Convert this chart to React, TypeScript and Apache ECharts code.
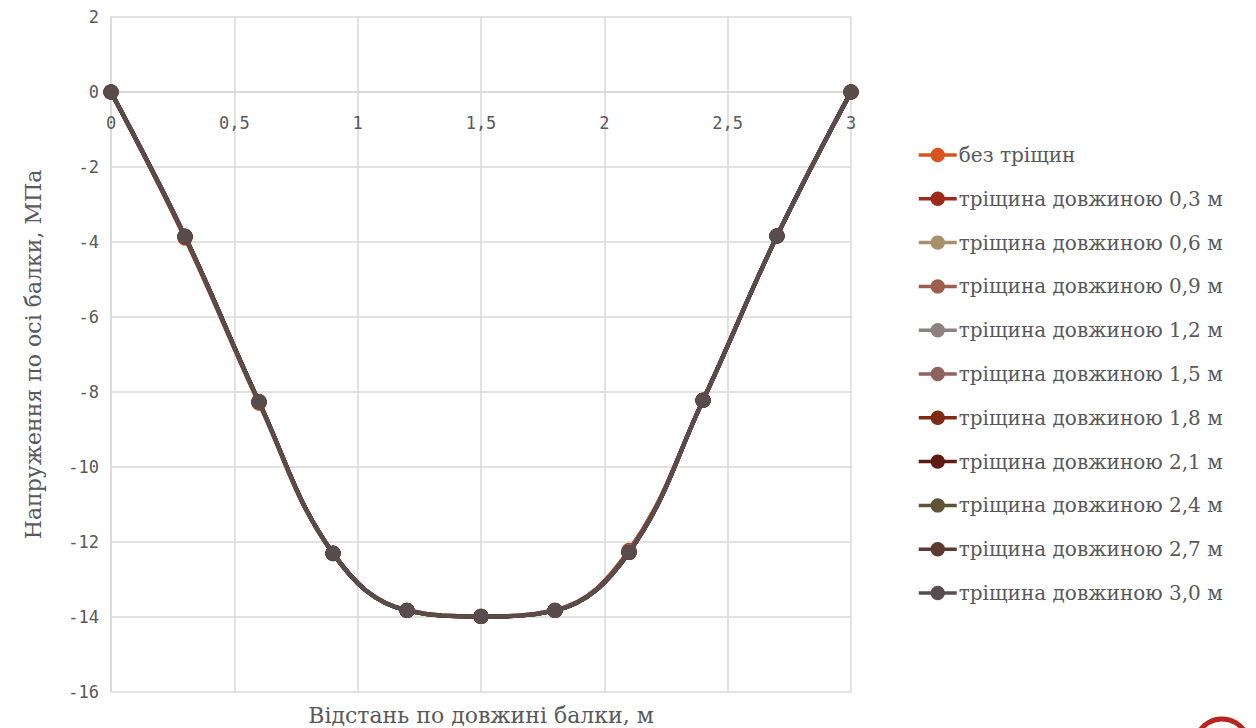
import React, { useEffect, useRef } from "react";
import * as echarts from "echarts";

// Distance along the beam, m
const distances = [0, 0.3, 0.6, 0.9, 1.2, 1.5, 1.8, 2.1, 2.4, 2.7, 3.0];

// Axis-line stress, MPa, for each crack length
const noCrack = [0, -3.9, -8.3, -12.3, -13.82, -13.98, -13.82, -12.22, -8.22, -3.84, 0];
const crack03 = [0, -3.88, -8.28, -12.3, -13.82, -13.98, -13.82, -12.24, -8.22, -3.84, 0];
const crack06 = [0, -3.86, -8.3, -12.32, -13.82, -13.98, -13.82, -12.26, -8.22, -3.84, 0];
const crack09 = [0, -3.85, -8.28, -12.3, -13.82, -13.98, -13.82, -12.26, -8.22, -3.84, 0];
const crack12 = [0, -3.85, -8.27, -12.3, -13.83, -13.98, -13.82, -12.27, -8.22, -3.84, 0];
const crack15 = [0, -3.85, -8.26, -12.3, -13.83, -13.99, -13.83, -12.27, -8.22, -3.84, 0];
const crack18 = [0, -3.85, -8.26, -12.3, -13.83, -13.99, -13.83, -12.28, -8.22, -3.84, 0];
const crack21 = [0, -3.85, -8.26, -12.3, -13.83, -13.99, -13.83, -12.28, -8.22, -3.84, 0];
const crack24 = [0, -3.85, -8.26, -12.3, -13.83, -13.99, -13.83, -12.28, -8.22, -3.84, 0];
const crack27 = [0, -3.85, -8.26, -12.3, -13.83, -13.99, -13.83, -12.28, -8.23, -3.84, 0];
const crack30 = [0, -3.85, -8.26, -12.3, -13.83, -13.99, -13.83, -12.28, -8.23, -3.84, 0];

const seriesNames = [
  "без тріщин",
  "тріщина довжиною 0,3 м",
  "тріщина довжиною 0,6 м",
  "тріщина довжиною 0,9 м",
  "тріщина довжиною 1,2 м",
  "тріщина довжиною 1,5 м",
  "тріщина довжиною 1,8 м",
  "тріщина довжиною 2,1 м",
  "тріщина довжиною 2,4 м",
  "тріщина довжиною 2,7 м",
  "тріщина довжиною 3,0 м",
];
const seriesValues = [
  noCrack, crack03, crack06, crack09, crack12, crack15,
  crack18, crack21, crack24, crack27, crack30,
];
const seriesColors = [
  "#d9531e", "#9e2a1c", "#a8916a", "#9c5f4e", "#8c8282", "#8f6262",
  "#7e2a10", "#5e1a12", "#5f5536", "#5c3a2f", "#594c4c",
];

const yTicks = { min: -16, max: 2, interval: 2 };
const xTicks = { min: 0, max: 3, interval: 0.5 };

const xTitle = "Відстань по довжині балки, м";
const yTitle = "Напруження по осі балки, МПа";

const textGrey = "#595959";
const gridGrey = "#d9d9d9";
const serif = "'DejaVu Serif', 'Liberation Serif', serif";
const tickFont = "'DejaVu Sans Mono', 'Liberation Mono', monospace";

// Plot area in pixels
const plot = { left: 111, top: 17, right: 851, bottom: 692, width: 1256, height: 728 };

const comma = (v: number) => String(v).replace(".", ",");

export default function App() {
  const ref = useRef<HTMLDivElement>(null);

  useEffect(() => {
    if (!ref.current) return;
    const chart = echarts.init(ref.current, null, { renderer: "svg" });

    // The horizontal axis crosses the vertical one at zero stress
    const zeroShift =
      ((0 - yTicks.min) / (yTicks.max - yTicks.min)) * (plot.bottom - plot.top);

    const series = seriesNames.map((name, i) => ({
      name,
      type: "line",
      smooth: 0.4,
      data: distances.map((x, j) => [x, seriesValues[i][j]]),
      symbol: "circle",
      symbolSize: 15,
      lineStyle: { width: 4, color: seriesColors[i] },
      itemStyle: { color: seriesColors[i] },
      z: 2 + i,
    }));

    chart.setOption({
      animation: false,
      backgroundColor: "#ffffff",
      grid: {
        left: plot.left,
        right: plot.width - plot.right,
        top: plot.top,
        bottom: plot.height - plot.bottom,
      },
      title: {
        text: xTitle,
        left: (plot.left + plot.right) / 2,
        bottom: 0,
        textAlign: "center",
        padding: [0, 0, 2, 0],
        textStyle: { fontFamily: serif, fontSize: 22, fontWeight: "normal", color: textGrey },
      },
      legend: {
        orient: "vertical",
        left: 917,
        top: 145,
        padding: 0,
        itemWidth: 38,
        itemHeight: 18,
        itemGap: 23.8,
        data: seriesNames,
        lineStyle: { width: 3.5 },
        textStyle: {
          fontFamily: serif,
          fontSize: 20,
          color: textGrey,
          lineHeight: 20,
          padding: [0, 0, 0, -3],
        },
      },
      xAxis: {
        type: "value",
        min: xTicks.min,
        max: xTicks.max,
        interval: xTicks.interval,
        offset: -zeroShift,
        axisLine: { onZero: false, lineStyle: { color: gridGrey, width: 1.5 } },
        axisTick: { show: false },
        axisLabel: {
          color: textGrey,
          fontFamily: tickFont,
          fontSize: 17,
          margin: 22,
          formatter: (v: number) => comma(v),
        },
        splitLine: { show: true, lineStyle: { color: gridGrey, width: 1.5 } },
      },
      yAxis: {
        type: "value",
        min: yTicks.min,
        max: yTicks.max,
        interval: yTicks.interval,
        name: yTitle,
        nameLocation: "middle",
        nameGap: 67,
        nameTextStyle: { fontFamily: serif, fontSize: 22, color: textGrey },
        axisLine: { show: true, onZero: false, lineStyle: { color: gridGrey, width: 1.5 } },
        axisTick: { show: false },
        axisLabel: {
          color: textGrey,
          fontFamily: tickFont,
          fontSize: 17,
          margin: 12,
          formatter: (v: number) => comma(v),
        },
        splitLine: { show: true, lineStyle: { color: gridGrey, width: 1.5 } },
      },
      graphic: [
        {
          type: "circle",
          shape: { cx: 1222, cy: 746, r: 27 },
          style: { fill: "none", stroke: "#b8251a", lineWidth: 5 },
          silent: true,
        },
      ],
      series,
    });

    return () => chart.dispose();
  }, []);

  return (
    <div
      ref={ref}
      style={{ position: "fixed", left: 0, top: 0, width: plot.width, height: plot.height }}
    />
  );
}
